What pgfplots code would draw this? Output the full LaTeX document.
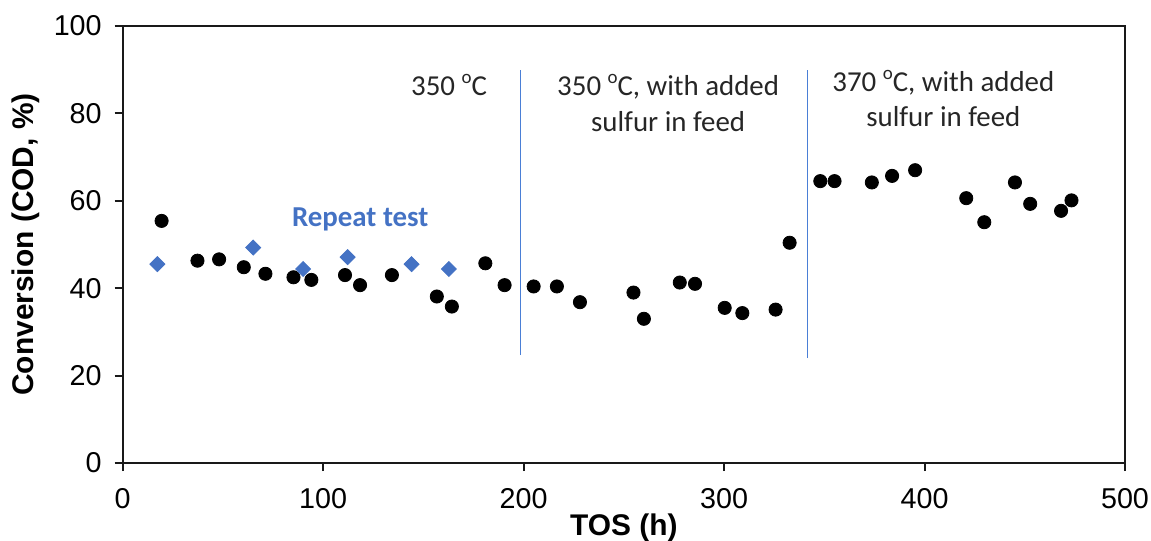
\documentclass[border=0pt]{standalone}
\usepackage{fontspec}
\setmainfont{Carlito}
\newfontfamily\arial{Liberation Sans}
\usepackage{pgfplots}
\pgfplotsset{compat=1.18}
\definecolor{myblue}{HTML}{4472C4}
\definecolor{lineblue}{HTML}{4A7FD6}
\newcommand{\degsup}{\raisebox{0.42em}{\fontsize{9.5}{10}\selectfont o}}

\pgfplotstableread{
x y
19.4 55.4
37.3 46.3
48.1 46.6
60.4 44.8
71.2 43.3
85.2 42.5
94.1 41.9
110.9 43.0
118.4 40.7
134.3 43.0
156.7 38.1
164.2 35.8
180.9 45.7
190.5 40.7
205.0 40.4
216.6 40.4
228.1 36.8
254.8 39.0
260.0 33.0
277.9 41.3
285.5 41.0
300.3 35.5
309.1 34.3
325.7 35.1
332.7 50.4
348.0 64.5
355.1 64.5
373.7 64.2
383.8 65.7
395.3 67.0
420.8 60.6
429.8 55.1
445.1 64.2
452.7 59.3
468.1 57.7
473.3 60.1
}\maindata

\pgfplotstableread{
x y
17.3 45.5
65.1 49.3
90.0 44.4
112.2 47.1
144.1 45.5
162.7 44.4
}\repeatdata

\begin{document}
\begin{tikzpicture}
\path[use as bounding box] (0,0) rectangle (575.5bp,270.5bp);
\begin{axis}[
  at={(61.35bp,39bp)}, anchor=south west,
  scale only axis,
  width=501.15bp, height=218.5bp,
  xmin=0, xmax=500, ymin=0, ymax=100,
  xtick={0,100,...,500}, ytick={0,20,...,100},
  tick pos=left, tick align=outside,
  major tick length=4bp,
  axis line style={line width=1bp, black!90},
  every tick/.style={line width=1bp, black!90},
  /pgf/number format/assume math mode=true,
  ticklabel style={font=\arial\fontsize{14.4}{17}\selectfont},
  xticklabel style={yshift=-5bp},
  yticklabel style={xshift=-3bp},
  xlabel={\arial\fontsize{15}{18}\selectfont\bfseries TOS (h)},
  ylabel={\arial\fontsize{15}{18}\selectfont\bfseries Conversion (COD, \%)},
  xlabel style={yshift=4bp},
  ylabel style={yshift=0bp},
  clip=false,
]
\addplot[only marks, mark=*, mark size=3.3bp, black, mark options={fill=black}] table[x=x,y=y] {\maindata};
\addplot[only marks, mark=square*, mark size=2.65bp, myblue, mark options={rotate=45, fill=myblue, draw=myblue}] table[x=x,y=y] {\repeatdata};
\addplot[lineblue, line width=0.6bp] coordinates {(198.6,24.7) (198.6,89.9)};
\addplot[lineblue, line width=0.6bp] coordinates {(341.8,24.0) (341.8,89.9)};

\node[anchor=base, font=\fontsize{14.5}{17}\selectfont, text=black!85] at (axis cs:162.8,84.0) {350 \degsup C};
\node[anchor=base, font=\fontsize{14.5}{17}\selectfont, text=black!85] at (axis cs:272.1,84.0) {350 \degsup C, with added};
\node[anchor=base, font=\fontsize{14.5}{17}\selectfont, text=black!85] at (axis cs:272.1,75.8) {sulfur in feed};
\node[anchor=base, font=\fontsize{14.5}{17}\selectfont, text=black!85] at (axis cs:409.4,85.0) {370 \degsup C, with added};
\node[anchor=base, font=\fontsize{14.5}{17}\selectfont, text=black!85] at (axis cs:409.4,77.0) {sulfur in feed};
\node[anchor=base, font=\fontsize{14.5}{17}\selectfont\bfseries, text=myblue] at (axis cs:118.5,54.1) {Repeat test};
\end{axis}
\end{tikzpicture}
\end{document}
